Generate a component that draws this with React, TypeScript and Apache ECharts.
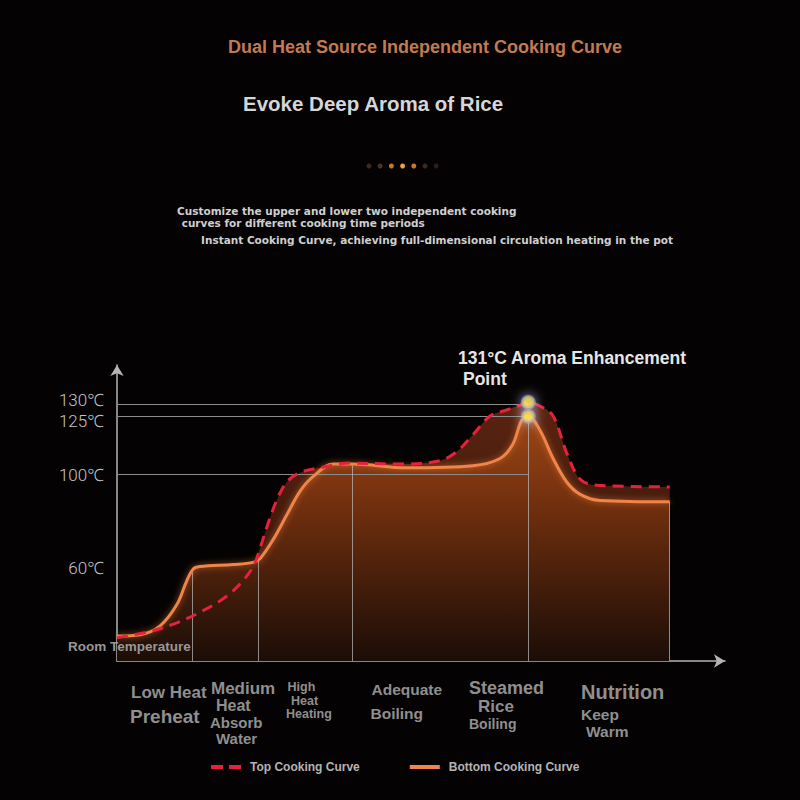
import React, { useEffect, useRef } from "react";
import * as echarts from "echarts";

// ---- data (x: relative cooking time 0..100, y: temperature in °C) ----
const yTickValues = [60, 100, 125, 130];
const seriesNames = ["Top Cooking Curve", "Bottom Cooking Curve"];

const topCurve: [number, number][] = [
  [0, 30], [6, 32.7], [10.8, 36.4], [15, 40.9], [19.2, 46.7], [22.3, 53.1],
  [24.7, 60.8], [25.9, 68.5], [27.1, 77.4], [28.9, 89], [30.7, 96.7],
  [33.1, 100.8], [36.7, 102.9], [42.2, 104.9], [51.2, 104.5], [58.4, 105.9],
  [61.5, 109.9], [64.4, 117.1], [67.5, 125.1], [70.5, 127.7], [72.9, 129.7],
  [74.4, 131], [76.5, 129.4], [78.9, 125.1], [81.4, 109], [83.8, 98],
  [86.8, 95.4], [100, 94.7],
];

const bottomCurve: [number, number][] = [
  [0, 30.7], [4.2, 31.3], [7.8, 35.1], [10.8, 44.1], [12.6, 54.3], [13.8, 59.5],
  [15, 60.5], [21, 61.4], [24.6, 62.3], [25.9, 64], [28.3, 72.3], [30.7, 82.6],
  [33.1, 92.8], [35.5, 99.2], [39.1, 104.5], [42.7, 104.5], [52.4, 102.9],
  [64.4, 103.8], [69.3, 106.9], [71.6, 113], [73.2, 123.2], [74.4, 125],
  [76.5, 119.1], [78.9, 106.9], [81.4, 96.7], [83.8, 91.5], [87.4, 88.9],
  [100, 88.3],
];

const peakPoints: [number, number][] = [[74.4, 131], [74.4, 125]];
const guideTemps = [130, 125, 100];
const guideEndX = 74.4;
const stageBounds = [13.6, 25.5, 42.5, 74.4, 100];
const stageTops = [59, 63.5, 104.5, 125, 88.3];

const titleText = "Dual Heat Source Independent Cooking Curve";
const subTitleText = "Evoke Deep Aroma of Rice";
const descLines = [
  "Customize the upper and lower two independent cooking",
  " curves for different cooking time periods",
  "Instant Cooking Curve, achieving full-dimensional circulation heating in the pot",
];
const peakLabelLines = ["131°C Aroma Enhancement", "Point"];
const roomTempLabel = "Room Temperature";
const stageLabelLines = [
  ["Low Heat", "Preheat"],
  ["Medium", "Heat", "Absorb", "Water"],
  ["High", "Heat", "Heating"],
  ["Adequate", "Boiling"],
  ["Steamed", "Rice", "Boiling"],
  ["Nutrition", "Keep", "Warm"],
];

const FONT = "'Liberation Sans', Arial, sans-serif";
const WIDE = "'DejaVu Sans', Verdana, sans-serif";

function txt(text: string, x: number, y: number, size: number, fill: string, align = "left", family = FONT, z = 20) {
  return {
    type: "text",
    z,
    silent: true,
    style: {
      text,
      x,
      y,
      fill,
      font: `bold ${size}px ${family}`,
      textAlign: align,
      align,
      textVerticalAlign: "middle",
      verticalAlign: "middle",
    },
  };
}

export default function App() {
  const ref = useRef<HTMLDivElement>(null);

  useEffect(() => {
    const chart = echarts.init(ref.current!, null, { renderer: "svg" });

    // layout for stage label lines: [x, y, size]
    const stageLayout: [number, number, number][][] = [
      [[131, 692, 17], [130, 716, 19]],
      [[211, 688, 17], [216, 705.5, 16], [210, 722, 15], [216, 738, 15]],
      [[287.5, 687, 12.5], [291, 700.5, 12.5], [286, 714, 12.5]],
      [[371.5, 689, 15.5], [370.5, 713, 15.5]],
      [[469, 688, 18], [478, 706.5, 17], [469, 724, 14]],
      [[581, 692, 20], [581, 714, 15.5], [586, 731, 15.5]],
    ];
    const stageTexts: any[] = [];
    stageLabelLines.forEach((lines, i) => {
      lines.forEach((line, j) => {
        const [x, y, s] = stageLayout[i][j];
        stageTexts.push(txt(line, x, y, s, "#8f8f8f"));
      });
    });

    const dotColors = ["#3a2a22", "#4a3426", "#c8782e", "#f0a040", "#c8782e", "#3a2a22", "#2a1e18"];
    const dots = dotColors.map((c, i) => ({
      type: "circle",
      silent: true,
      shape: { cx: 369 + i * 11.2, cy: 166, r: 2.5 },
      style: { fill: c },
    }));

    const bottomArea = new echarts.graphic.LinearGradient(0, 0, 0, 1, [
      { offset: 0, color: "#9c4616" },
      { offset: 0.35, color: "#73300e" },
      { offset: 0.75, color: "#3c1a0a" },
      { offset: 1, color: "#1c0d07" },
    ]);
    const topArea = new echarts.graphic.LinearGradient(0, 0, 0, 1, [
      { offset: 0, color: "#5a2410" },
      { offset: 1, color: "#2a1008" },
    ]);

    const smooth = 0.35;
    const labelFont = "Roboto, 'Noto Sans', sans-serif";

    const option: any = {
      animation: false,
      backgroundColor: "#040202",
      grid: { left: 117, right: 75, top: 365, bottom: 139 },
      xAxis: {
        type: "value",
        min: 0,
        max: 110,
        axisLine: {
          show: true,
          symbol: ["none", "arrow"],
          symbolSize: [10, 11],
          lineStyle: { color: "#b4b4b4", width: 1.5 },
        },
        axisTick: { show: false },
        axisLabel: { show: false },
        splitLine: { show: false },
      },
      yAxis: {
        type: "value",
        min: 20,
        max: 147,
        axisLine: {
          show: true,
          symbol: ["none", "arrow"],
          symbolSize: [10, 11],
          lineStyle: { color: "#b4b4b4", width: 1.5 },
        },
        axisTick: { show: false },
        splitLine: { show: false },
        axisLabel: {
          show: true,
          customValues: yTickValues,
          margin: 13,
          formatter: (v: number) =>
            v === 130 ? `{up|${v}℃}` : v === 125 ? `{dn|${v}℃}` : `{n|${v}℃}`,
          rich: {
            n: { fontSize: 17, color: "#c4c4c4", fontFamily: labelFont, fontWeight: 300 },
            up: { fontSize: 17, color: "#c4c4c4", fontFamily: labelFont, fontWeight: 300, padding: [0, 0, 10, 0] },
            dn: { fontSize: 17, color: "#c4c4c4", fontFamily: labelFont, fontWeight: 300, padding: [10, 0, 0, 0] },
          },
        },
      },
      legend: {
        data: [
          { name: seriesNames[0], icon: "path://M0,0h12v4h-12zM18,0h12v4h-12z" },
          { name: seriesNames[1], icon: "path://M0,0h30v4h-30z" },
        ],
        left: 206,
        top: 756,
        itemWidth: 30,
        itemHeight: 4,
        itemGap: 50,
        textStyle: { color: "#b4b4b4", fontSize: 12, fontWeight: "bold", fontFamily: FONT, padding: [0, 0, 0, 4] },
        selectedMode: false,
      },
      series: [
        {
          name: "guides",
          type: "line",
          data: [],
          z: 1,
          silent: true,
          markLine: {
            silent: true,
            symbol: ["none", "none"],
            label: { show: false },
            lineStyle: { color: "#8c8c8c", width: 1, type: "solid" },
            data: guideTemps.map((t) => [{ coord: [0, t] }, { coord: [guideEndX, t] }]),
          },
        },
        {
          name: "topArea",
          type: "line",
          data: topCurve,
          smooth,
          symbol: "none",
          z: 2,
          silent: true,
          lineStyle: { width: 0 },
          areaStyle: { color: topArea, opacity: 1 },
        },
        {
          name: "bottomArea",
          type: "line",
          data: bottomCurve,
          smooth,
          symbol: "none",
          z: 3,
          silent: true,
          lineStyle: { width: 0 },
          areaStyle: { color: bottomArea, opacity: 1 },
        },
        {
          name: "stages",
          type: "line",
          data: [],
          z: 4,
          silent: true,
          markLine: {
            silent: true,
            symbol: ["none", "none"],
            label: { show: false },
            lineStyle: { color: "rgba(190,190,190,0.7)", width: 1, type: "solid" },
            data: stageBounds.map((x, i) => [{ coord: [x, 20] }, { coord: [x, stageTops[i]] }]),
          },
        },
        {
          name: seriesNames[1],
          type: "line",
          data: bottomCurve,
          smooth,
          symbol: "none",
          z: 5,
          color: "#f0844a",
          lineStyle: { color: "#f0844a", width: 3, shadowBlur: 6, shadowColor: "rgba(255,140,60,0.6)" },
        },
        {
          name: seriesNames[0],
          type: "line",
          data: topCurve,
          smooth,
          symbol: "none",
          z: 6,
          color: "#e8203c",
          lineStyle: { color: "#e8203c", width: 3, type: [11, 7] },
        },
        {
          name: "peaks",
          type: "scatter",
          data: peakPoints,
          z: 7,
          silent: true,
          symbolSize: 12,
          itemStyle: {
            color: "#ffe81a",
            borderColor: "rgba(170,170,210,0.75)",
            borderWidth: 3,
            shadowBlur: 12,
            shadowColor: "rgba(210,210,255,0.9)",
          },
        },
      ],
      graphic: [
        txt(titleText, 425, 47, 18, "#c27a52", "center"),
        txt(subTitleText, 243, 103, 20.5, "#d6d6d6"),
        ...dots,
        txt(descLines[0], 177, 211, 10.5, "#cfcfcf", "left", WIDE),
        txt(descLines[1], 178, 223, 10.5, "#cfcfcf", "left", WIDE),
        txt(descLines[2], 201, 239.5, 10.5, "#cfcfcf", "left", WIDE),
        txt(peakLabelLines[0], 458, 357.5, 17.5, "#e6e6e6"),
        txt(peakLabelLines[1], 463, 379, 17.5, "#e6e6e6"),
        txt(roomTempLabel, 68, 646, 13.5, "rgba(170,170,170,0.9)"),
        ...stageTexts,
      ],
    };

    chart.setOption(option);
    return () => chart.dispose();
  }, []);

  return (
    <div
      ref={ref}
      style={{ position: "fixed", left: 0, top: 0, width: 800, height: 800 }}
    />
  );
}
